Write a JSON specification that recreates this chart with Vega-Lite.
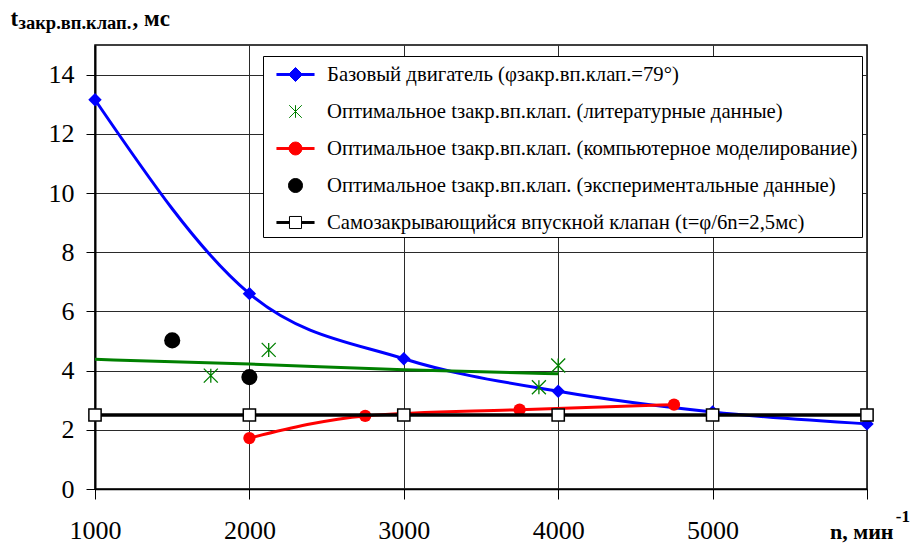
{
  "$schema": "https://vega.github.io/schema/vega-lite/v6.json",
  "autosize": "none",
  "width": 772,
  "height": 444,
  "padding": {"left": 95, "top": 45, "right": 47, "bottom": 55},
  "background": "white",
  "config": {
    "view": {"stroke": "black", "strokeWidth": 1.5},
    "font": "Liberation Serif",
    "axis": {
      "labelFont": "Liberation Serif",
      "labelFontSize": 26,
      "labelColor": "black",
      "labelFlush": false,
      "tickColor": "black",
      "domainColor": "black",
      "gridColor": "#2a2a2a",
      "gridWidth": 1,
      "titleFont": "Liberation Serif",
      "titleColor": "black",
      "titleFontWeight": "bold"
    },
    "legend": {
      "labelFont": "Liberation Serif",
      "labelFontSize": 20.7,
      "labelColor": "black",
      "labelLimit": 0
    },
    "title": {"font": "Liberation Serif", "color": "black"}
  },
  "title": {
    "text": "-1",
    "orient": "bottom",
    "anchor": "end",
    "frame": "group",
    "fontSize": 17,
    "fontWeight": "bold",
    "dx": 43,
    "dy": -34,
    "offset": 0
  },
  "datasets": {
    "blue": [
      {"n": 1000, "t": 13.15},
      {"n": 2000, "t": 6.6},
      {"n": 3000, "t": 4.4},
      {"n": 4000, "t": 3.3},
      {"n": 5000, "t": 2.6},
      {"n": 6000, "t": 2.2}
    ],
    "red": [
      {"n": 2000, "t": 1.72},
      {"n": 2750, "t": 2.47},
      {"n": 3750, "t": 2.68},
      {"n": 4750, "t": 2.85}
    ],
    "black": [
      {"n": 1000, "t": 2.5},
      {"n": 2000, "t": 2.5},
      {"n": 3000, "t": 2.5},
      {"n": 4000, "t": 2.5},
      {"n": 5000, "t": 2.5},
      {"n": 6000, "t": 2.5}
    ],
    "experiment": [
      {"n": 1500, "t": 5.02},
      {"n": 2000, "t": 3.78}
    ],
    "literature": [
      {"n": 1750, "t": 3.83},
      {"n": 2125, "t": 4.7},
      {"n": 3875, "t": 3.44},
      {"n": 4000, "t": 4.17}
    ],
    "trend": [
      {"n": 1000, "t": 4.38},
      {"n": 2000, "t": 4.22},
      {"n": 3000, "t": 4.03},
      {"n": 4000, "t": 3.89}
    ],
    "legend": [
      {"series": "Базовый двигатель (φзакр.вп.клап.=79°)"},
      {"series": "Оптимальное tзакр.вп.клап. (литературные данные)"},
      {"series": "Оптимальное tзакр.вп.клап. (компьютерное моделирование)"},
      {"series": "Оптимальное tзакр.вп.клап. (экспериментальные данные)"},
      {"series": "Самозакрывающийся впускной клапан (t=φ/6n=2,5мс)"}
    ]
  },
  "resolve": {"axis": {"x": "independent", "y": "independent"}},
  "layer": [
    {
      "data": {"name": "blue"},
      "mark": {"type": "line", "interpolate": "monotone", "color": "#0000ff", "strokeWidth": 3},
      "encoding": {
        "x": {
          "field": "n", "type": "quantitative",
          "scale": {"domain": [1000, 6000], "nice": false, "zero": false},
          "axis": {
            "values": [1000, 2000, 3000, 4000, 5000, 6000],
            "labelExpr": "datum.value == 6000 ? '' : datum.label",
            "format": "d",
            "tickSize": 10,
            "tickWidth": 1,
            "labelPadding": 18,
            "domainWidth": 1.5,
            "title": "n, мин",
            "titleFontSize": 22,
            "titleAlign": "right",
            "titleAnchor": "start",
            "titleX": 798,
            "titleY": 49,
            "titleBaseline": "alphabetic"
          }
        },
        "y": {
          "field": "t", "type": "quantitative",
          "scale": {"domain": [0, 15], "nice": false},
          "axis": {
            "values": [0, 2, 4, 6, 8, 10, 12, 14],
            "tickSize": 9,
            "tickWidth": 1,
            "labelPadding": 12,
            "domainWidth": 2,
            "title": "t",
            "titleFontSize": 23,
            "titleAngle": 0,
            "titleAlign": "left",
            "titleAnchor": "start",
            "titleX": -85,
            "titleY": -20,
            "titleBaseline": "alphabetic"
          }
        }
      }
    },
    {
      "data": {"name": "blue"},
      "mark": {"type": "point", "shape": "diamond", "filled": true, "color": "#0000ff", "size": 180, "opacity": 1},
      "encoding": {
        "x": {"field": "n", "type": "quantitative", "scale": {"domain": [1000, 6000], "nice": false, "zero": false}, "axis": null},
        "y": {"field": "t", "type": "quantitative", "scale": {"domain": [0, 15], "nice": false}, "axis": null}
      }
    },
    {
      "data": {"name": "red"},
      "mark": {"type": "line", "interpolate": "monotone", "color": "#ff0000", "strokeWidth": 3},
      "encoding": {
        "x": {"field": "n", "type": "quantitative", "scale": {"domain": [1000, 6000], "nice": false, "zero": false}, "axis": null},
        "y": {"field": "t", "type": "quantitative", "scale": {"domain": [0, 15], "nice": false}, "axis": null}
      }
    },
    {
      "data": {"name": "red"},
      "mark": {"type": "point", "shape": "circle", "filled": true, "color": "#ff0000", "size": 150, "opacity": 1},
      "encoding": {
        "x": {"field": "n", "type": "quantitative", "scale": {"domain": [1000, 6000], "nice": false, "zero": false}, "axis": null},
        "y": {"field": "t", "type": "quantitative", "scale": {"domain": [0, 15], "nice": false}, "axis": null}
      }
    },
    {
      "data": {"name": "black"},
      "mark": {"type": "line", "color": "black", "strokeWidth": 3.5},
      "encoding": {
        "x": {
          "field": "n", "type": "quantitative",
          "scale": {"domain": [1000, 6000], "nice": false, "zero": false},
          "axis": {
            "orient": "top",
            "labels": false, "ticks": false, "domain": false, "grid": false,
            "title": ", мс",
            "titleFontSize": 23,
            "titleAlign": "left",
            "titleAnchor": "start",
            "titleX": 37,
            "titleY": -20,
            "titleBaseline": "alphabetic"
          }
        },
        "y": {
          "field": "t", "type": "quantitative",
          "scale": {"domain": [0, 15], "nice": false},
          "axis": {
            "orient": "right",
            "labels": false, "ticks": false, "domain": false, "grid": false,
            "title": "закр.вп.клап.",
            "titleFontSize": 18.5,
            "titleAngle": 0,
            "titleAlign": "left",
            "titleAnchor": "start",
            "titleX": -849,
            "titleY": -17,
            "titleBaseline": "alphabetic"
          }
        }
      }
    },
    {
      "data": {"name": "black"},
      "mark": {"type": "point", "shape": "square", "filled": true, "fill": "white", "stroke": "black", "strokeWidth": 1.5, "size": 150, "opacity": 1},
      "encoding": {
        "x": {"field": "n", "type": "quantitative", "scale": {"domain": [1000, 6000], "nice": false, "zero": false}, "axis": null},
        "y": {"field": "t", "type": "quantitative", "scale": {"domain": [0, 15], "nice": false}, "axis": null}
      }
    },
    {
      "data": {"name": "experiment"},
      "mark": {"type": "point", "shape": "circle", "filled": true, "color": "black", "size": 260, "opacity": 1},
      "encoding": {
        "x": {"field": "n", "type": "quantitative", "scale": {"domain": [1000, 6000], "nice": false, "zero": false}, "axis": null},
        "y": {"field": "t", "type": "quantitative", "scale": {"domain": [0, 15], "nice": false}, "axis": null}
      }
    },
    {
      "data": {"name": "literature"},
      "mark": {"type": "point", "shape": "M0,-1V1M-1,-1L1,1M-1,1L1,-1", "filled": false, "color": "#008000", "strokeWidth": 1.3, "size": 196, "opacity": 1},
      "encoding": {
        "x": {"field": "n", "type": "quantitative", "scale": {"domain": [1000, 6000], "nice": false, "zero": false}, "axis": null},
        "y": {"field": "t", "type": "quantitative", "scale": {"domain": [0, 15], "nice": false}, "axis": null}
      }
    },
    {
      "data": {"name": "trend"},
      "mark": {"type": "line", "interpolate": "monotone", "color": "#008000", "strokeWidth": 3},
      "encoding": {
        "x": {"field": "n", "type": "quantitative", "scale": {"domain": [1000, 6000], "nice": false, "zero": false}, "axis": null},
        "y": {"field": "t", "type": "quantitative", "scale": {"domain": [0, 15], "nice": false}, "axis": null}
      }
    },
    {
      "data": {"name": "legend"},
      "mark": {"type": "point", "filled": true, "opacity": 0, "strokeWidth": 1},
      "encoding": {
        "fill": {
          "field": "series", "type": "nominal",
          "scale": {
            "domain": ["Базовый двигатель (φзакр.вп.клап.=79°)", "Оптимальное tзакр.вп.клап. (литературные данные)", "Оптимальное tзакр.вп.клап. (компьютерное моделирование)", "Оптимальное tзакр.вп.клап. (экспериментальные данные)", "Самозакрывающийся впускной клапан (t=φ/6n=2,5мс)"],
            "range": ["#0000ff", "transparent", "#ff0000", "black", "white"]
          },
          "legend": {
            "title": null,
            "orient": "none",
            "legendX": 168,
            "legendY": 11,
            "padding": 4,
            "strokeColor": "black",
            "fillColor": "white",
            "symbolSize": 784,
            "symbolStrokeWidth": 1,
            "symbolOpacity": 1,
            "labelOffset": 31,
            "rowPadding": 12,
            "labelFontSize": 20.7,
            "encode": {
              "symbols": {
                "update": {
                  "fill": {"scale": "fill", "field": "value"},
                  "stroke": {"scale": "stroke", "field": "value"},
                  "opacity": {"value": 1},
                  "fillOpacity": {"value": 1},
                  "strokeOpacity": {"value": 1}
                }
              }
            }
          }
        },
        "stroke": {
          "field": "series", "type": "nominal",
          "scale": {
            "domain": ["Базовый двигатель (φзакр.вп.клап.=79°)", "Оптимальное tзакр.вп.клап. (литературные данные)", "Оптимальное tзакр.вп.клап. (компьютерное моделирование)", "Оптимальное tзакр.вп.клап. (экспериментальные данные)", "Самозакрывающийся впускной клапан (t=φ/6n=2,5мс)"],
            "range": ["#0000ff", "#008000", "#ff0000", "black", "black"]
          }
        },
        "shape": {
          "field": "series", "type": "nominal",
          "scale": {
            "domain": ["Базовый двигатель (φзакр.вп.клап.=79°)", "Оптимальное tзакр.вп.клап. (литературные данные)", "Оптимальное tзакр.вп.клап. (компьютерное моделирование)", "Оптимальное tзакр.вп.клап. (экспериментальные данные)", "Самозакрывающийся впускной клапан (t=φ/6n=2,5мс)"],
            "range": [
              "M-0.36,-0.07H2.36M-0.36,0H2.36M-0.36,0.07H2.36M1,-0.5L1.5,0L1,0.5L0.5,0Z",
              "M1,-0.45V0.45M0.55,-0.45L1.45,0.45M0.55,0.45L1.45,-0.45",
              "M-0.36,-0.07H2.36M-0.36,0H2.36M-0.36,0.07H2.36M1.46,0A0.46,0.46,0,1,1,0.54,0A0.46,0.46,0,1,1,1.46,0Z",
              "M1.5,0A0.5,0.5,0,1,1,0.5,0A0.5,0.5,0,1,1,1.5,0Z",
              "M-0.36,-0.07H0.57M-0.36,0H0.57M-0.36,0.07H0.57M1.43,-0.07H2.36M1.43,0H2.36M1.43,0.07H2.36M0.57,-0.43H1.43V0.43H0.57Z"
            ]
          }
        }
      }
    }
  ]
}
